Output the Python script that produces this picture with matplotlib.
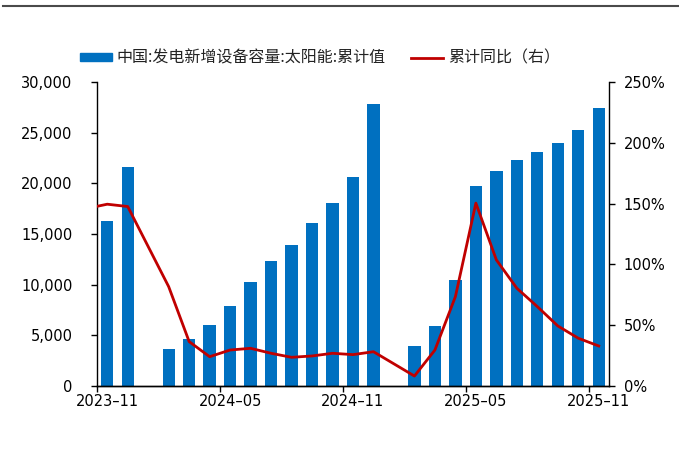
import matplotlib
matplotlib.use("Agg")
import matplotlib.pyplot as plt
from matplotlib.lines import Line2D
from matplotlib.patches import Patch
from matplotlib.ticker import FuncFormatter, MultipleLocator
import numpy as np

plt.rcParams["font.family"] = ["DejaVu Sans", "Noto Sans CJK SC"]

# months counted from 2023-11 (index 0); Januaries are missing in the source
month_index = [0, 1, 3, 4, 5, 6, 7, 8, 9, 10, 11, 12, 13,
               15, 16, 17, 18, 19, 20, 21, 22, 23, 24]
solar_cum = [16330, 21570, 3655, 4610, 5990, 7900, 10240, 12380, 13960, 16100, 18080, 20580, 27790,
             3920, 5930, 10470, 19760, 21240, 22330, 23090, 23970, 25290, 27460]
# yoy line also has a 2023-10 point that sits left of the axis
line_index = [-1] + month_index
yoy_pct = [146, 149.5, 147.6, 81.7, 36.5, 24.1, 29.6, 31.0, 26.9, 23.6, 24.7, 26.9, 25.8, 28.2,
           8.2, 29.6, 73.5, 150.4, 103.7, 80.4, 65.3, 49.4, 39.3, 32.9]
tick_labels = ["2023–11", "2024–05", "2024–11", "2025–05", "2025–11"]
tick_index = [0, 6, 12, 18, 24]

blue = "#0070C0"
red = "#C00000"

fig = plt.figure(figsize=(6.79, 4.61), dpi=100)
ax = fig.add_axes([97 / 679, 1 - 386 / 461, (609 - 97) / 679, (386 - 82) / 461])
ax2 = ax.twinx()

ax.bar(np.array(month_index) + 0.5, solar_cum, width=0.6, color=blue, zorder=2)
ax2.plot(np.array(line_index) + 0.5, yoy_pct, color=red, lw=2, zorder=3)

ax.set_xlim(0, 25)
ax.set_ylim(0, 30000)
ax2.set_ylim(0, 250)
ax.yaxis.set_major_locator(MultipleLocator(5000))
ax2.yaxis.set_major_locator(MultipleLocator(50))
ax.yaxis.set_major_formatter(FuncFormatter(lambda v, p: f"{int(v):,}"))
ax2.yaxis.set_major_formatter(FuncFormatter(lambda v, p: f"{int(v)}%"))
# tick marks at month starts, labels centred on the month slot
ax.set_xticks(tick_index)
ax.set_xticklabels([])
ax.set_xticks(np.array(tick_index) + 0.5, minor=True)
ax.set_xticklabels(tick_labels, minor=True)

for a in (ax, ax2):
    a.spines["top"].set_visible(False)
    for s in a.spines.values():
        s.set_color("black")
        s.set_linewidth(1.0)
    a.tick_params(direction="out", length=4, width=1, labelsize=10.5, colors="black")
ax2.spines["left"].set_visible(False)
ax.spines["right"].set_visible(False)
ax.tick_params(axis="x", which="minor", length=0, pad=5.5, labelsize=10.5)
ax.tick_params(axis="y", pad=13.7)
ax2.tick_params(axis="y", pad=6.5)

handles = [Patch(color=blue), Line2D([0], [0], color=red, lw=2)]
labels = ["中国:发电新增设备容量:太阳能:累计值", "累计同比（右）"]
fig.legend(handles, labels, loc="center", bbox_to_anchor=(320 / 679, 1 - 58 / 461),
           ncol=2, frameon=False, handlelength=2.0, handleheight=0.45, columnspacing=1.6,
           handletextpad=0.3, labelcolor="#222222",
           prop={"family": ["Noto Sans CJK SC", "DejaVu Sans"], "size": 11.5})

# thin rule across the top of the image
fig.add_artist(Line2D([3 / 679, 1], [1 - 6.5 / 461] * 2, color="#4a4a4a", lw=1.5))

fig.savefig("out.png", dpi=100)
